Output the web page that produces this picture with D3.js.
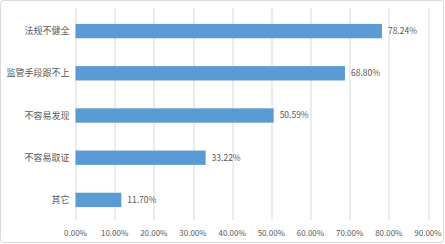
<!DOCTYPE html>
<html>
<head>
<meta charset="utf-8">
<script src="https://d3js.org/d3.v7.min.js"></script>
<style>
  body { margin: 0; background: #fff; }
  text { font-family: "Noto Sans CJK SC", "DejaVu Sans", sans-serif; fill: #595959; }
</style>
</head>
<body>
<div id="chart"></div>
<script>
var categories = ["法规不健全", "监管手段跟不上", "不容易发现", "不容易取证", "其它"];
var values = [78.24, 68.80, 50.59, 33.22, 11.70];
var ticks = [0, 10, 20, 30, 40, 50, 60, 70, 80, 90];

var W = 445, H = 244;
var margin = { top: 10, right: 17, bottom: 23, left: 75.5 };
var width = W - margin.left - margin.right,
    height = H - margin.top - margin.bottom;

var svg = d3.select("#chart").append("svg")
    .attr("width", W)
    .attr("height", H);

// outer frame
svg.append("rect")
    .attr("x", 0.5).attr("y", 0.5)
    .attr("width", W - 2).attr("height", H - 2)
    .attr("rx", 3)
    .attr("fill", "none")
    .attr("stroke", "#d9d9d9");

var g = svg.append("g")
    .attr("transform", "translate(" + margin.left + "," + margin.top + ")");

var x = d3.scaleLinear().domain([0, 90]).range([0, width]);
var y = d3.scaleBand().domain(categories).range([0, height]).paddingInner(0.66).paddingOuter(0.33);

// grid lines
g.selectAll(".grid")
    .data(ticks)
    .enter()
    .append("line")
    .attr("x1", function (d) { return Math.round(x(d)) + 0.5; })
    .attr("x2", function (d) { return Math.round(x(d)) + 0.5; })
    .attr("y1", -2)
    .attr("y2", height - 1)
    .attr("stroke", "#d9d9d9");

// x axis labels
g.selectAll(".tick-label")
    .data(ticks)
    .enter()
    .append("text")
    .attr("x", function (d) { return x(d); })
    .attr("y", height + 15)
    .attr("text-anchor", "middle")
    .attr("font-size", 8)
    .text(function (d) { return d.toFixed(2) + "%"; });

// bars
g.selectAll(".bar")
    .data(values)
    .enter()
    .append("rect")
    .attr("x", 0)
    .attr("y", function (d, i) { return y(categories[i]); })
    .attr("width", function (d) { return x(d); })
    .attr("height", y.bandwidth())
    .attr("fill", "#5b9bd5");

// category labels
g.selectAll(".cat")
    .data(categories)
    .enter()
    .append("text")
    .attr("x", -6)
    .attr("y", function (d) { return y(d) + y.bandwidth() / 2; })
    .attr("dy", "0.35em")
    .attr("text-anchor", "end")
    .attr("font-size", 9)
    .text(function (d) { return d; });

// value labels
g.selectAll(".val")
    .data(values)
    .enter()
    .append("text")
    .attr("x", function (d) { return x(d) + 6; })
    .attr("y", function (d, i) { return y(categories[i]) + y.bandwidth() / 2; })
    .attr("dy", "0.35em")
    .attr("font-size", 8.5)
    .text(function (d) { return d.toFixed(2) + "%"; });
</script>
</body>
</html>
